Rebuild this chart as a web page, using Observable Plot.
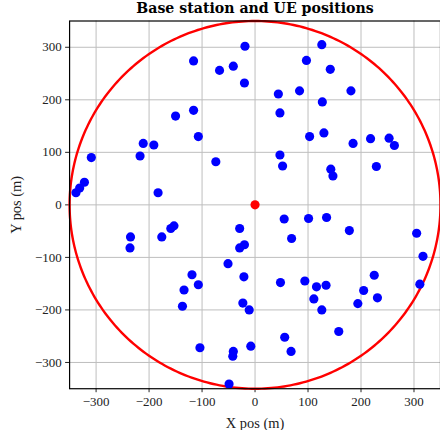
<!DOCTYPE html>
<html>
<head>
<meta charset="utf-8">
<script src="https://cdn.jsdelivr.net/npm/d3@7"></script>
<script src="https://cdn.jsdelivr.net/npm/@observablehq/plot@0.6"></script>
<style>
html, body { margin: 0; padding: 0; overflow: hidden; background: #fff; }
g[aria-label="x-axis label"], g[aria-label="y-axis label"] { font-size: 14.5px; }
</style>
</head>
<body>
<div id="chart"></div>
<script>
const titleText = "Base station and UE positions";
const xLabel = "X pos (m)";
const yLabel = "Y pos (m)";
const tickValues = [-300, -200, -100, 0, 100, 200, 300];
const cellRadius = 350;
const baseStation = [{x: 0, y: 0}];

const ueX = [-116, -67, -41, -19, -20, 44, 84, 97, 126, 142, 127, 181, -150, -116, 47,
  -107, -211, -191, -217, -309, -74, -322, -331, -338, -183, 103, 130, 218, 253, 263, 185, 47, 52, 143, 147, 229,
  -235, -236, -176, -159, -153, -29, -29, -20, -51, 55, 69, 101, 135, 178, 305, 317,
  -119, -107, -134, -137, -21, -23, -11, -104, -41, -42, -8, -49, 48, 94, 116, 134, 111, 126, 56, 68, 158, 205, 225, 231, 194, 311];
const ueY = [274, 256, 264, 302, 232, 211, 217, 275, 305, 258, 196, 217, 169, 180, 175,
  130, 117, 114, 93, 90, 82, 43, 32, 23, 23, 130, 137, 126, 127, 113, 117, 95, 74, 68, 55, 73,
  -61, -82, -61, -45, -40, -45, -82, -76, -112, -27, -64, -26, -24, -49, -54, -98,
  -133, -152, -162, -193, -137, -187, -200, -272, -279, -288, -269, -341, -148, -145, -156, -153, -179, -200, -252, -279, -241, -163, -134, -177, -188, -151];

const ues = ueX.map((x, i) => ({x, y: ueY[i]}));
const circle = d3.range(0, 361, 1).map(a => ({
  x: cellRadius * Math.cos(a * Math.PI / 180),
  y: cellRadius * Math.sin(a * Math.PI / 180)
}));

const font = "'Liberation Serif', 'DejaVu Serif', serif";
const chart = Plot.plot({
  width: 442,
  height: 432,
  marginLeft: 69.4,
  marginRight: 0,
  marginTop: 20.6,
  marginBottom: 42,
  style: {fontFamily: font, fontSize: "13px", color: "#222", background: "#fff"},
  x: {domain: [-cellRadius, cellRadius], ticks: tickValues, tickFormat: d3.format("d"), tickSize: 4, tickPadding: 4,
      label: xLabel, labelAnchor: "center", labelOffset: 39, labelArrow: "none"},
  y: {domain: [-cellRadius, cellRadius], ticks: tickValues, tickFormat: d3.format("d"), tickSize: 4, tickPadding: 4,
      label: yLabel, labelAnchor: "center", labelOffset: 59, labelArrow: "none"},
  marks: [
    Plot.gridX(tickValues, {stroke: "#bdbdbd", strokeOpacity: 1, strokeWidth: 1}),
    Plot.gridY(tickValues, {stroke: "#bdbdbd", strokeOpacity: 1, strokeWidth: 1}),
    Plot.line(circle, {x: "x", y: "y", stroke: "#ff0000", strokeWidth: 2.4, curve: "linear"}),
    Plot.dot(ues, {x: "x", y: "y", r: 4.6, fill: "#0000ff", stroke: "none"}),
    Plot.dot(baseStation, {x: "x", y: "y", r: 4.6, fill: "#ff0000", stroke: "none"}),
    Plot.frame({stroke: "#000", strokeWidth: 1.2}),
    Plot.text([titleText], {frameAnchor: "top", dy: -12.6, text: d => d, fontFamily: "'DejaVu Serif', serif", fontWeight: "bold", fontSize: 14.2, lineAnchor: "middle", fill: "#000"})
  ]
});
document.getElementById("chart").appendChild(chart);
</script>
</body>
</html>
